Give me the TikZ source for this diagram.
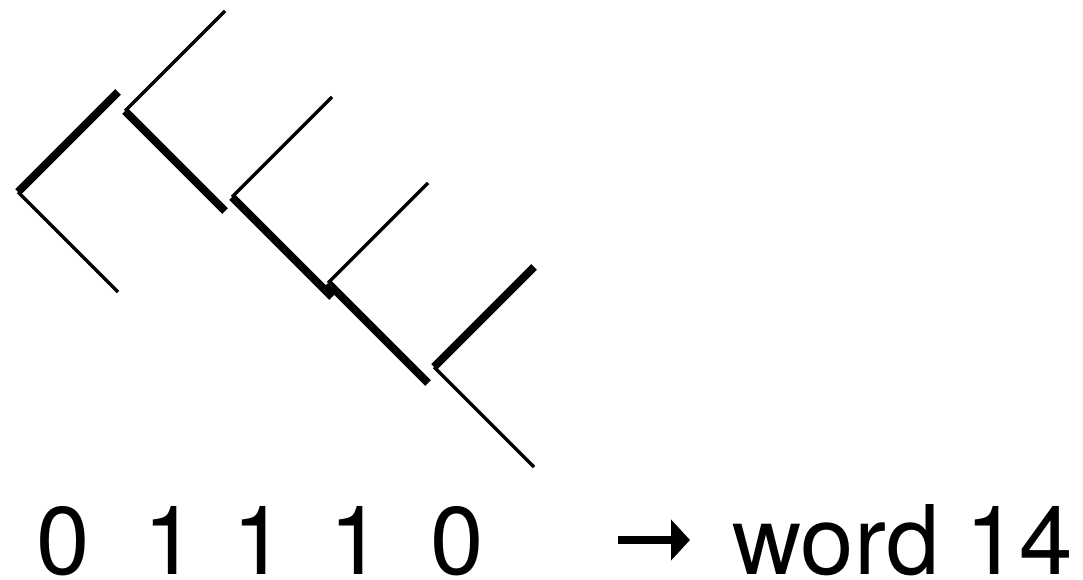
\documentclass[tikz,border=0pt]{standalone}
\usepackage{fontspec}
\setmainfont{TeX Gyre Heros}
\usetikzlibrary{arrows.meta}

\begin{document}
\begin{tikzpicture}[x=1pt,y=-1pt,
		thickedge/.style={line width=8pt},
		thinedge/.style={line width=3.5pt},
		bit/.style={anchor=base,inner sep=0pt,text depth=0pt,font=\fontsize{96}{100}\selectfont}]
	\useasboundingbox (0,0) rectangle (1083,580);
	% branch points, each with an upper and a lower end
	\foreach \i/\x/\y in {1/18/192,2/125/111,3/232/197,4/328/283,5/434/367} {
		\coordinate (n\i) at (\x,\y);
		\coordinate (u\i) at (\x+100,\y-100);
		\coordinate (d\i) at (\x+100,\y+100);
	}
	% the branches not taken
	\draw[thinedge] (n1) -- (d1);
	\draw[thinedge] (n2) -- (u2);
	\draw[thinedge] (n3) -- (u3);
	\draw[thinedge] (n4) -- (u4);
	\draw[thinedge] (n5) -- (d5);
	% the path taken
	\draw[thickedge] (n1) -- (u1);
	\draw[thickedge] (n2) -- (d2);
	\draw[thickedge] (n3) -- (d3);
	\draw[thickedge] (n4) -- (d4);
	\draw[thickedge] (n5) -- (u5);
	% the code read off the path
	\node[bit] (b1) at (63,574) {0};
	\node[bit] (b2) at (170,574) {1};
	\node[bit] (b3) at (259,574) {1};
	\node[bit] (b4) at (356,574) {1};
	\node[bit] (b5) at (457,574) {0};
	\node[bit,anchor=base west] (word) at (732,574) {word 14};
	\coordinate (tail) at (618,540);
	\coordinate (head) at (690,540);
	\draw[line width=8pt,-{Triangle[length=19pt,width=40pt]}] (tail) -- (head);
\end{tikzpicture}
\end{document}
